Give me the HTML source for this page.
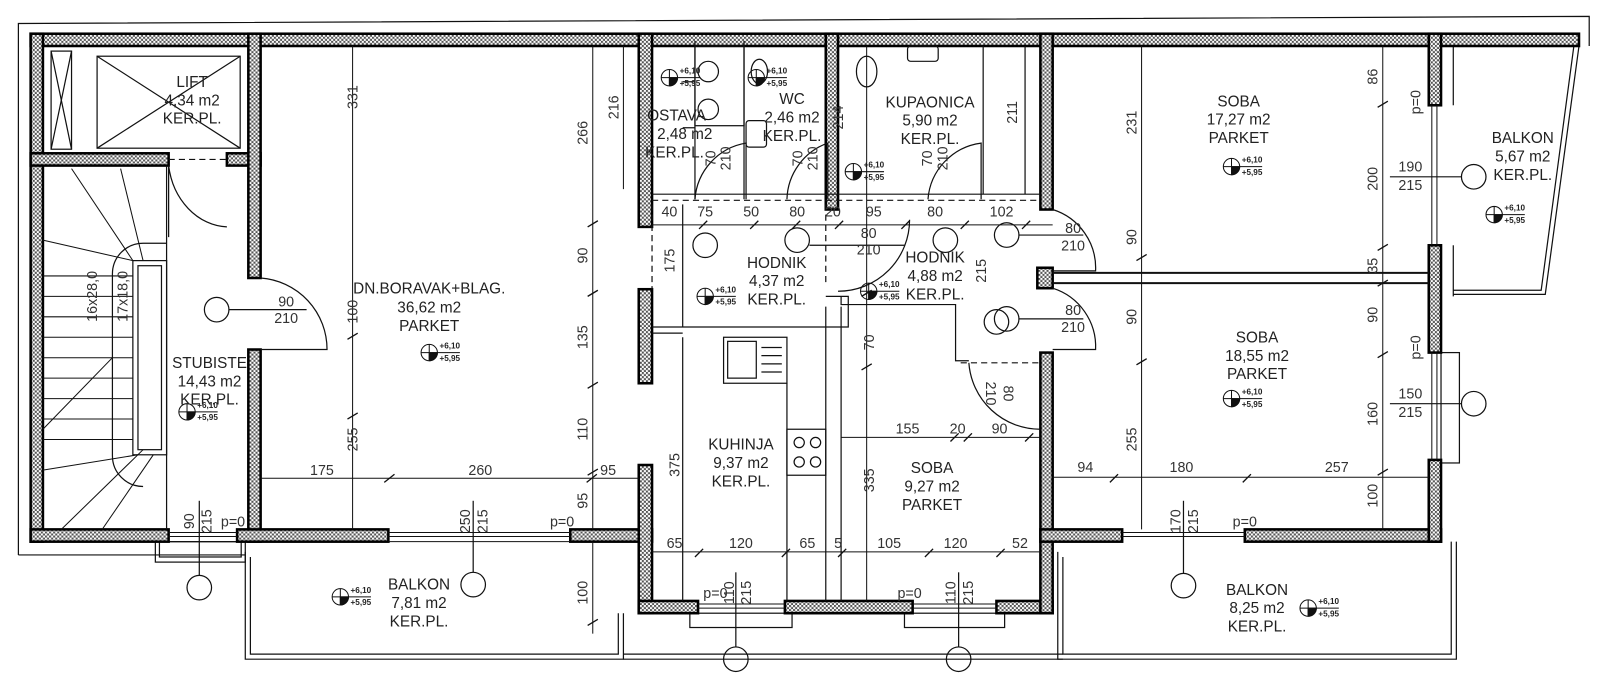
<!DOCTYPE html>
<html><head><meta charset="utf-8"><style>
html,body{margin:0;padding:0;background:#fff;width:1600px;height:694px;overflow:hidden}
svg{display:block}
text{font-family:"Liberation Sans Narrow","Liberation Sans",sans-serif;fill:#222}
.l{font-size:15px;text-anchor:middle}
.d{font-size:14px;text-anchor:middle;fill:#333}
.s{font-size:8px;font-weight:bold}
</style></head><body>
<svg width="1600" height="694" viewBox="0 0 1600 694" xmlns="http://www.w3.org/2000/svg">
<defs>
<pattern id="h" width="4" height="4" patternUnits="userSpaceOnUse">
<rect width="4" height="4" fill="#fff"/><rect width="2" height="2" fill="#555"/><rect x="2" y="2" width="2" height="2" fill="#555"/>
</pattern>
</defs>
<g transform="scale(1.022,1.022)">
<g fill="none" stroke="#111" stroke-width="1.2">
<polyline points="18,543 18,23 1555,16 1555,45"/>
<line x1="18" y1="543" x2="240" y2="543"/>
<polyline points="1422,45 1545,45 1512,288 1422,288"/>
<polyline points="1426,45 1540,45 1508,284 1422,284"/>
<polyline points="240,540 240,645 610,645 610,600"/>
<polyline points="245,545 245,640 605,640 605,600"/>
<polyline points="610,645 1040,645"/>
<polyline points="610,640 1040,640"/>
<polyline points="1035,540 1035,645 1425,645 1425,530"/>
<polyline points="1040,545 1040,640 1420,640 1420,530"/>
<rect x="152" y="530" width="88" height="20"/>
<rect x="156" y="530" width="80" height="15"/>
<rect x="675" y="600" width="100" height="14"/>
<rect x="885" y="600" width="98" height="14"/>
<rect x="1410" y="345" width="18" height="108"/>
<line x1="1422" y1="45" x2="1422" y2="103"/>
<line x1="1422" y1="240" x2="1422" y2="290"/>
</g>
<g fill="url(#h)" stroke="#000" stroke-width="2.5">
<rect x="30" y="33" width="1515" height="12"/>
<rect x="30" y="33" width="12" height="497"/>
<rect x="30" y="150" width="135" height="12"/>
<rect x="222" y="150" width="33" height="12"/>
<rect x="243" y="33" width="12" height="239"/>
<rect x="243" y="342" width="12" height="188"/>
<rect x="30" y="518" width="135" height="12"/>
<rect x="232" y="518" width="148" height="12"/>
<rect x="558" y="518" width="80" height="12"/>
<rect x="625" y="455" width="13" height="145"/>
<rect x="625" y="588" width="58" height="12"/>
<rect x="768" y="588" width="125" height="12"/>
<rect x="975" y="588" width="55" height="12"/>
<rect x="1018" y="345" width="12" height="255"/>
<rect x="1018" y="518" width="80" height="12"/>
<rect x="1218" y="518" width="192" height="12"/>
<rect x="1398" y="33" width="12" height="70"/>
<rect x="1398" y="240" width="12" height="105"/>
<rect x="1398" y="450" width="12" height="80"/>
<rect x="625" y="33" width="13" height="189"/>
<rect x="808" y="33" width="12" height="172"/>
<rect x="1018" y="33" width="12" height="172"/>
<rect x="625" y="283" width="13" height="92"/>
<rect x="1015" y="262" width="15" height="20"/>
</g>
<g fill="none" stroke="#111" stroke-width="1.2">
<rect x="50" y="50" width="20" height="96"/>
<line x1="50" y1="50" x2="70" y2="146"/><line x1="70" y1="50" x2="50" y2="146"/>
<rect x="95" y="55" width="140" height="90"/>
<line x1="95" y1="55" x2="235" y2="145"/><line x1="235" y1="55" x2="95" y2="145"/>
<line x1="165" y1="156" x2="222" y2="156" stroke-dasharray="6,4"/>
<path d="M165,162 v70 M165,162 A60,70 0 0 0 222,222"/>
<line x1="163" y1="162" x2="163" y2="518"/>
<rect x="130" y="255" width="33" height="190"/>
<rect x="135" y="260" width="23" height="180"/>
<path d="M110,268 v178 a30,30 0 0 0 30,30 M110,268 a30,30 0 0 1 30,-30 h23"/>
<g stroke-width="1">
<line x1="42" y1="270" x2="130" y2="270"/><line x1="42" y1="290" x2="130" y2="290"/><line x1="42" y1="310" x2="130" y2="310"/><line x1="42" y1="330" x2="130" y2="330"/><line x1="42" y1="350" x2="130" y2="350"/><line x1="42" y1="370" x2="130" y2="370"/><line x1="42" y1="390" x2="130" y2="390"/><line x1="42" y1="410" x2="130" y2="410"/><line x1="42" y1="430" x2="130" y2="430"/>
<line x1="70" y1="165" x2="130" y2="255"/><line x1="118" y1="165" x2="140" y2="255"/><line x1="42" y1="235" x2="130" y2="255"/>
<line x1="42" y1="460" x2="135" y2="445"/><line x1="60" y1="518" x2="140" y2="440"/><line x1="100" y1="518" x2="150" y2="445"/><line x1="42" y1="420" x2="110" y2="350"/>
</g>
<path d="M255,272 A70,70 0 0 1 320,342 L255,342"/>
<circle cx="212" cy="303" r="12"/>
<line x1="224" y1="303" x2="300" y2="303"/>
<g stroke-width="1">
<line x1="165" y1="521" x2="232" y2="521"/><line x1="165" y1="525" x2="232" y2="525"/>
<line x1="380" y1="521" x2="558" y2="521"/><line x1="380" y1="525" x2="558" y2="525"/><line x1="380" y1="530" x2="558" y2="530"/>
<line x1="683" y1="591" x2="768" y2="591"/><line x1="683" y1="595" x2="768" y2="595"/>
<line x1="893" y1="591" x2="975" y2="591"/><line x1="893" y1="595" x2="975" y2="595"/>
<line x1="1098" y1="521" x2="1218" y2="521"/><line x1="1098" y1="525" x2="1218" y2="525"/>
<line x1="1401" y1="103" x2="1401" y2="240"/><line x1="1406" y1="103" x2="1406" y2="240"/>
<line x1="1401" y1="345" x2="1401" y2="450"/><line x1="1406" y1="345" x2="1406" y2="450"/>
</g>
<line x1="1030" y1="267" x2="1398" y2="267" stroke-width="2"/>
<line x1="1030" y1="277" x2="1398" y2="277" stroke-width="2"/>
<line x1="638" y1="190" x2="1018" y2="190"/>
<line x1="638" y1="196" x2="1018" y2="196" stroke-dasharray="6,4"/>
<line x1="680" y1="40" x2="680" y2="195"/>
<line x1="728" y1="40" x2="728" y2="195"/>
<line x1="668" y1="80" x2="680" y2="80"/>
<line x1="668" y1="125" x2="680" y2="125"/>
<rect x="680" y="45" width="48" height="78"/>
<circle cx="693" cy="70" r="10"/><circle cx="693" cy="107" r="10"/>
<ellipse cx="743" cy="70" rx="8" ry="12"/>
<rect x="730" y="118" width="20" height="26" rx="3"/>
<line x1="962" y1="45" x2="962" y2="190"/>
<line x1="1003" y1="45" x2="1003" y2="190"/>
<ellipse cx="848" cy="70" rx="10" ry="15"/>
<rect x="888" y="45" width="30" height="15" rx="3"/>
<path d="M680,195 A60,60 0 0 1 730,140 V195"/>
<path d="M770,195 A60,60 0 0 1 810,140 V195"/>
<path d="M908,195 A60,60 0 0 1 960,140 V195"/>
<path d="M1030,205 A60,60 0 0 1 1072,265 H1030"/>
<path d="M1030,282 A60,60 0 0 1 1072,342 H1030"/>
<path d="M820,285 A70,70 0 0 0 890,215"/>
<path d="M948,355 A70,70 0 0 0 1018,420"/>
<circle cx="690" cy="240" r="12"/><circle cx="780" cy="235" r="12"/>
<circle cx="925" cy="235" r="12"/><circle cx="985" cy="230" r="12"/>
<circle cx="975" cy="315" r="12"/><circle cx="985" cy="312" r="12"/>
<line x1="997" y1="230" x2="1060" y2="230"/><line x1="997" y1="312" x2="1060" y2="312"/>
<line x1="792" y1="240" x2="885" y2="240"/>
<line x1="638" y1="200" x2="638" y2="283" stroke-dasharray="6,4"/>
<line x1="668" y1="200" x2="668" y2="320"/>
<line x1="808" y1="200" x2="808" y2="280" stroke-dasharray="6,4"/>
<polyline points="638,320 830,320 830,290 808,290"/>
<polyline points="638,326 668,326"/>
<polyline points="823,290 823,298 935,298 935,353 948,353"/>
<line x1="940" y1="355" x2="1018" y2="355" stroke-dasharray="6,4"/>
<line x1="808" y1="300" x2="808" y2="588"/><line x1="823" y1="300" x2="823" y2="588"/>
<line x1="668" y1="330" x2="668" y2="588"/>
<rect x="708" y="330" width="62" height="45"/>
<rect x="712" y="334" width="28" height="36"/>
<line x1="745" y1="340" x2="765" y2="340"/><line x1="745" y1="348" x2="765" y2="348"/><line x1="745" y1="356" x2="765" y2="356"/><line x1="745" y1="364" x2="765" y2="364"/>
<line x1="770" y1="375" x2="770" y2="588"/>
<rect x="770" y="420" width="38" height="45"/>
<circle cx="782" cy="433" r="5"/><circle cx="798" cy="433" r="5"/><circle cx="782" cy="452" r="5"/><circle cx="798" cy="452" r="5"/>
<circle cx="195" cy="575" r="12"/><line x1="195" y1="490" x2="195" y2="563"/>
<circle cx="463" cy="572" r="12"/><line x1="463" y1="490" x2="463" y2="560"/>
<circle cx="720" cy="645" r="12"/><line x1="720" y1="560" x2="720" y2="633"/>
<circle cx="938" cy="645" r="12"/><line x1="938" y1="560" x2="938" y2="633"/>
<circle cx="1158" cy="573" r="12"/><line x1="1158" y1="490" x2="1158" y2="561"/>
<circle cx="1442" cy="173" r="12"/><line x1="1360" y1="173" x2="1430" y2="173"/>
<circle cx="1442" cy="395" r="12"/><line x1="1360" y1="395" x2="1430" y2="395"/>
<g stroke-width="1">
<line x1="345" y1="45" x2="345" y2="518"/>
<line x1="580" y1="45" x2="580" y2="518"/>
<line x1="610" y1="45" x2="610" y2="185"/>
<line x1="1117" y1="45" x2="1117" y2="518"/>
<line x1="1353" y1="45" x2="1353" y2="518"/>
<line x1="255" y1="468" x2="625" y2="468"/>
<line x1="1030" y1="467" x2="1398" y2="467"/>
<line x1="638" y1="220" x2="1030" y2="220"/>
<line x1="638" y1="540" x2="1018" y2="540"/>
<line x1="823" y1="428" x2="1018" y2="428"/>
<line x1="848" y1="45" x2="848" y2="588"/>
<line x1="580" y1="530" x2="580" y2="620"/>
</g>
<g stroke-width="1.3">
<path d="M340,332 l10,-6 M340,410 l10,-6 M575,222 l10,-6 M575,290 l10,-6 M575,380 l10,-6 M575,465 l10,-6 M376,472 l10,-8 M574,472 l10,-8 M1112,357 l10,-6 M1112,255 l10,-6 M1348,105 l10,-6 M1348,245 l10,-6 M1348,280 l10,-6 M1348,350 l10,-6 M1348,465 l10,-6 M1086,472 l8,-8 M1216,472 l8,-8 M684,224 l8,-8 M734,224 l8,-8 M775,224 l8,-8 M817,224 l8,-8 M882,224 l8,-8 M940,224 l8,-8 M1000,224 l8,-8 M680,545 l8,-8 M765,545 l8,-8 M820,545 l8,-8 M905,545 l8,-8 M975,545 l8,-8 M843,290 l10,-6 M843,362 l10,-6 M930,432 l8,-8 M943,432 l8,-8 M1003,432 l8,-8 M575,612 l10,-6"/>
</g>
</g>
<g stroke="#111" stroke-width="1" fill="none">
<g transform="translate(183,403)"><circle r="8"/><line x1="-8" x2="8"/><line y1="-8" y2="8"/><path d="M0,0 H8 A8,8 0 0 1 0,8Z" fill="#111"/><line x1="8" x2="30"/></g>
<g transform="translate(420,345)"><circle r="8"/><line x1="-8" x2="8"/><line y1="-8" y2="8"/><path d="M0,0 H8 A8,8 0 0 1 0,8Z" fill="#111"/><line x1="8" x2="30"/></g>
<g transform="translate(655,76)"><circle r="8"/><line x1="-8" x2="8"/><line y1="-8" y2="8"/><path d="M0,0 H8 A8,8 0 0 1 0,8Z" fill="#111"/><line x1="8" x2="30"/></g>
<g transform="translate(740,76)"><circle r="8"/><line x1="-8" x2="8"/><line y1="-8" y2="8"/><path d="M0,0 H8 A8,8 0 0 1 0,8Z" fill="#111"/><line x1="8" x2="30"/></g>
<g transform="translate(835,168)"><circle r="8"/><line x1="-8" x2="8"/><line y1="-8" y2="8"/><path d="M0,0 H8 A8,8 0 0 1 0,8Z" fill="#111"/><line x1="8" x2="30"/></g>
<g transform="translate(690,290)"><circle r="8"/><line x1="-8" x2="8"/><line y1="-8" y2="8"/><path d="M0,0 H8 A8,8 0 0 1 0,8Z" fill="#111"/><line x1="8" x2="30"/></g>
<g transform="translate(850,285)"><circle r="8"/><line x1="-8" x2="8"/><line y1="-8" y2="8"/><path d="M0,0 H8 A8,8 0 0 1 0,8Z" fill="#111"/><line x1="8" x2="30"/></g>
<g transform="translate(1205,163)"><circle r="8"/><line x1="-8" x2="8"/><line y1="-8" y2="8"/><path d="M0,0 H8 A8,8 0 0 1 0,8Z" fill="#111"/><line x1="8" x2="30"/></g>
<g transform="translate(1205,390)"><circle r="8"/><line x1="-8" x2="8"/><line y1="-8" y2="8"/><path d="M0,0 H8 A8,8 0 0 1 0,8Z" fill="#111"/><line x1="8" x2="30"/></g>
<g transform="translate(1462,210)"><circle r="8"/><line x1="-8" x2="8"/><line y1="-8" y2="8"/><path d="M0,0 H8 A8,8 0 0 1 0,8Z" fill="#111"/><line x1="8" x2="30"/></g>
<g transform="translate(333,584)"><circle r="8"/><line x1="-8" x2="8"/><line y1="-8" y2="8"/><path d="M0,0 H8 A8,8 0 0 1 0,8Z" fill="#111"/><line x1="8" x2="30"/></g>
<g transform="translate(1280,595)"><circle r="8"/><line x1="-8" x2="8"/><line y1="-8" y2="8"/><path d="M0,0 H8 A8,8 0 0 1 0,8Z" fill="#111"/><line x1="8" x2="30"/></g>
</g>
<g class="s">
<text class="s" x="193" y="399">+6,10</text><text class="s" x="193" y="411">+5,95</text>
<text class="s" x="430" y="341">+6,10</text><text class="s" x="430" y="353">+5,95</text>
<text class="s" x="665" y="72">+6,10</text><text class="s" x="665" y="84">+5,95</text>
<text class="s" x="750" y="72">+6,10</text><text class="s" x="750" y="84">+5,95</text>
<text class="s" x="845" y="164">+6,10</text><text class="s" x="845" y="176">+5,95</text>
<text class="s" x="700" y="286">+6,10</text><text class="s" x="700" y="298">+5,95</text>
<text class="s" x="860" y="281">+6,10</text><text class="s" x="860" y="293">+5,95</text>
<text class="s" x="1215" y="159">+6,10</text><text class="s" x="1215" y="171">+5,95</text>
<text class="s" x="1215" y="386">+6,10</text><text class="s" x="1215" y="398">+5,95</text>
<text class="s" x="1472" y="206">+6,10</text><text class="s" x="1472" y="218">+5,95</text>
<text class="s" x="343" y="580">+6,10</text><text class="s" x="343" y="592">+5,95</text>
<text class="s" x="1290" y="591">+6,10</text><text class="s" x="1290" y="603">+5,95</text>
</g>
<text class="l" x="188" y="85">LIFT</text><text class="l" x="188" y="103">4,34 m2</text><text class="l" x="188" y="121">KER.PL.</text>
<text class="l" x="205" y="360">STUBISTE</text><text class="l" x="205" y="378">14,43 m2</text><text class="l" x="205" y="396">KER.PL.</text>
<text class="l" x="420" y="287">DN.BORAVAK+BLAG.</text><text class="l" x="420" y="306">36,62 m2</text><text class="l" x="420" y="324">PARKET</text>
<text class="l" x="662" y="118">OSTAVA</text><text class="l" x="670" y="136">2,48 m2</text><text class="l" x="660" y="154">KER.PL.</text>
<text class="l" x="775" y="102">WC</text><text class="l" x="775" y="120">2,46 m2</text><text class="l" x="775" y="138">KER.PL.</text>
<text class="l" x="910" y="105">KUPAONICA</text><text class="l" x="910" y="123">5,90 m2</text><text class="l" x="910" y="141">KER.PL.</text>
<text class="l" x="760" y="262">HODNIK</text><text class="l" x="760" y="280">4,37 m2</text><text class="l" x="760" y="298">KER.PL.</text>
<text class="l" x="915" y="257">HODNIK</text><text class="l" x="915" y="275">4,88 m2</text><text class="l" x="915" y="293">KER.PL.</text>
<text class="l" x="725" y="440">KUHINJA</text><text class="l" x="725" y="458">9,37 m2</text><text class="l" x="725" y="476">KER.PL.</text>
<text class="l" x="912" y="463">SOBA</text><text class="l" x="912" y="481">9,27 m2</text><text class="l" x="912" y="499">PARKET</text>
<text class="l" x="1212" y="104">SOBA</text><text class="l" x="1212" y="122">17,27 m2</text><text class="l" x="1212" y="140">PARKET</text>
<text class="l" x="1230" y="335">SOBA</text><text class="l" x="1230" y="353">18,55 m2</text><text class="l" x="1230" y="371">PARKET</text>
<text class="l" x="1490" y="140">BALKON</text><text class="l" x="1490" y="158">5,67 m2</text><text class="l" x="1490" y="176">KER.PL.</text>
<text class="l" x="410" y="577">BALKON</text><text class="l" x="410" y="595">7,81 m2</text><text class="l" x="410" y="613">KER.PL.</text>
<text class="l" x="1230" y="582">BALKON</text><text class="l" x="1230" y="600">8,25 m2</text><text class="l" x="1230" y="618">KER.PL.</text>
<text class="d" x="280" y="300">90</text><text class="d" x="280" y="316">210</text>
<text class="d" x="1380" y="168">190</text><text class="d" x="1380" y="186">215</text>
<text class="d" x="1380" y="390">150</text><text class="d" x="1380" y="408">215</text>
<text class="d" x="1050" y="228">80</text><text class="d" x="1050" y="245">210</text>
<text class="d" x="1050" y="308">80</text><text class="d" x="1050" y="325">210</text>
<text class="d" x="850" y="233">80</text><text class="d" x="850" y="249">210</text>
<text class="d" x="315" y="465">175</text><text class="d" x="470" y="465">260</text><text class="d" x="595" y="465">95</text>
<text class="d" x="1062" y="462">94</text><text class="d" x="1156" y="462">180</text><text class="d" x="1308" y="462">257</text>
<text class="d" x="655" y="212">40</text><text class="d" x="690" y="212">75</text><text class="d" x="735" y="212">50</text><text class="d" x="780" y="212">80</text><text class="d" x="815" y="212">20</text><text class="d" x="855" y="212">95</text><text class="d" x="915" y="212">80</text><text class="d" x="980" y="212">102</text>
<text class="d" x="660" y="536">65</text><text class="d" x="725" y="536">120</text><text class="d" x="790" y="536">65</text><text class="d" x="820" y="536">5</text><text class="d" x="870" y="536">105</text><text class="d" x="935" y="536">120</text><text class="d" x="998" y="536">52</text>
<text class="d" x="888" y="424">155</text><text class="d" x="937" y="424">20</text><text class="d" x="978" y="424">90</text>
<text class="d" x="700" y="585">p=0</text><text class="d" x="890" y="585">p=0</text><text class="d" x="550" y="515">p=0</text><text class="d" x="228" y="515">p=0</text><text class="d" x="1218" y="515">p=0</text>
<g class="d">
<text class="d" transform="translate(350,95) rotate(-90)">331</text>
<text class="d" transform="translate(350,305) rotate(-90)">100</text>
<text class="d" transform="translate(350,430) rotate(-90)">255</text>
<text class="d" transform="translate(575,130) rotate(-90)">266</text>
<text class="d" transform="translate(605,105) rotate(-90)">216</text>
<text class="d" transform="translate(575,250) rotate(-90)">90</text>
<text class="d" transform="translate(575,330) rotate(-90)">135</text>
<text class="d" transform="translate(575,420) rotate(-90)">110</text>
<text class="d" transform="translate(575,490) rotate(-90)">95</text>
<text class="d" transform="translate(575,580) rotate(-90)">100</text>
<text class="d" transform="translate(660,255) rotate(-90)">175</text>
<text class="d" transform="translate(665,455) rotate(-90)">375</text>
<text class="d" transform="translate(825,115) rotate(-90)">214</text>
<text class="d" transform="translate(995,110) rotate(-90)">211</text>
<text class="d" transform="translate(855,335) rotate(-90)">70</text>
<text class="d" transform="translate(855,470) rotate(-90)">335</text>
<text class="d" transform="translate(965,265) rotate(-90)">215</text>
<text class="d" transform="translate(1112,120) rotate(-90)">231</text>
<text class="d" transform="translate(1112,232) rotate(-90)">90</text>
<text class="d" transform="translate(1112,310) rotate(-90)">90</text>
<text class="d" transform="translate(1112,430) rotate(-90)">255</text>
<text class="d" transform="translate(1348,75) rotate(-90)">86</text>
<text class="d" transform="translate(1348,175) rotate(-90)">200</text>
<text class="d" transform="translate(1348,260) rotate(-90)">35</text>
<text class="d" transform="translate(1348,308) rotate(-90)">90</text>
<text class="d" transform="translate(1348,405) rotate(-90)">160</text>
<text class="d" transform="translate(1348,485) rotate(-90)">100</text>
<text class="d" transform="translate(1390,100) rotate(-90)">p=0</text>
<text class="d" transform="translate(1390,340) rotate(-90)">p=0</text>
<text class="d" transform="translate(95,290) rotate(-90)">16x28,0</text>
<text class="d" transform="translate(125,290) rotate(-90)">17x18,0</text>
<text class="d" transform="translate(190,510) rotate(-90)">90</text><text class="d" transform="translate(207,510) rotate(-90)">215</text>
<text class="d" transform="translate(460,510) rotate(-90)">250</text><text class="d" transform="translate(477,510) rotate(-90)">215</text>
<text class="d" transform="translate(718,580) rotate(-90)">110</text><text class="d" transform="translate(735,580) rotate(-90)">215</text>
<text class="d" transform="translate(935,580) rotate(-90)">110</text><text class="d" transform="translate(952,580) rotate(-90)">215</text>
<text class="d" transform="translate(1155,510) rotate(-90)">170</text><text class="d" transform="translate(1172,510) rotate(-90)">215</text>
<text class="d" transform="translate(700,155) rotate(-90)">70</text><text class="d" transform="translate(715,155) rotate(-90)">210</text>
<text class="d" transform="translate(785,155) rotate(-90)">70</text><text class="d" transform="translate(800,155) rotate(-90)">210</text>
<text class="d" transform="translate(912,155) rotate(-90)">70</text><text class="d" transform="translate(927,155) rotate(-90)">210</text>
<text class="d" transform="translate(965,385) rotate(90)">210</text><text class="d" transform="translate(982,385) rotate(90)">80</text>
</g>
</g>
</svg>
</body></html>
